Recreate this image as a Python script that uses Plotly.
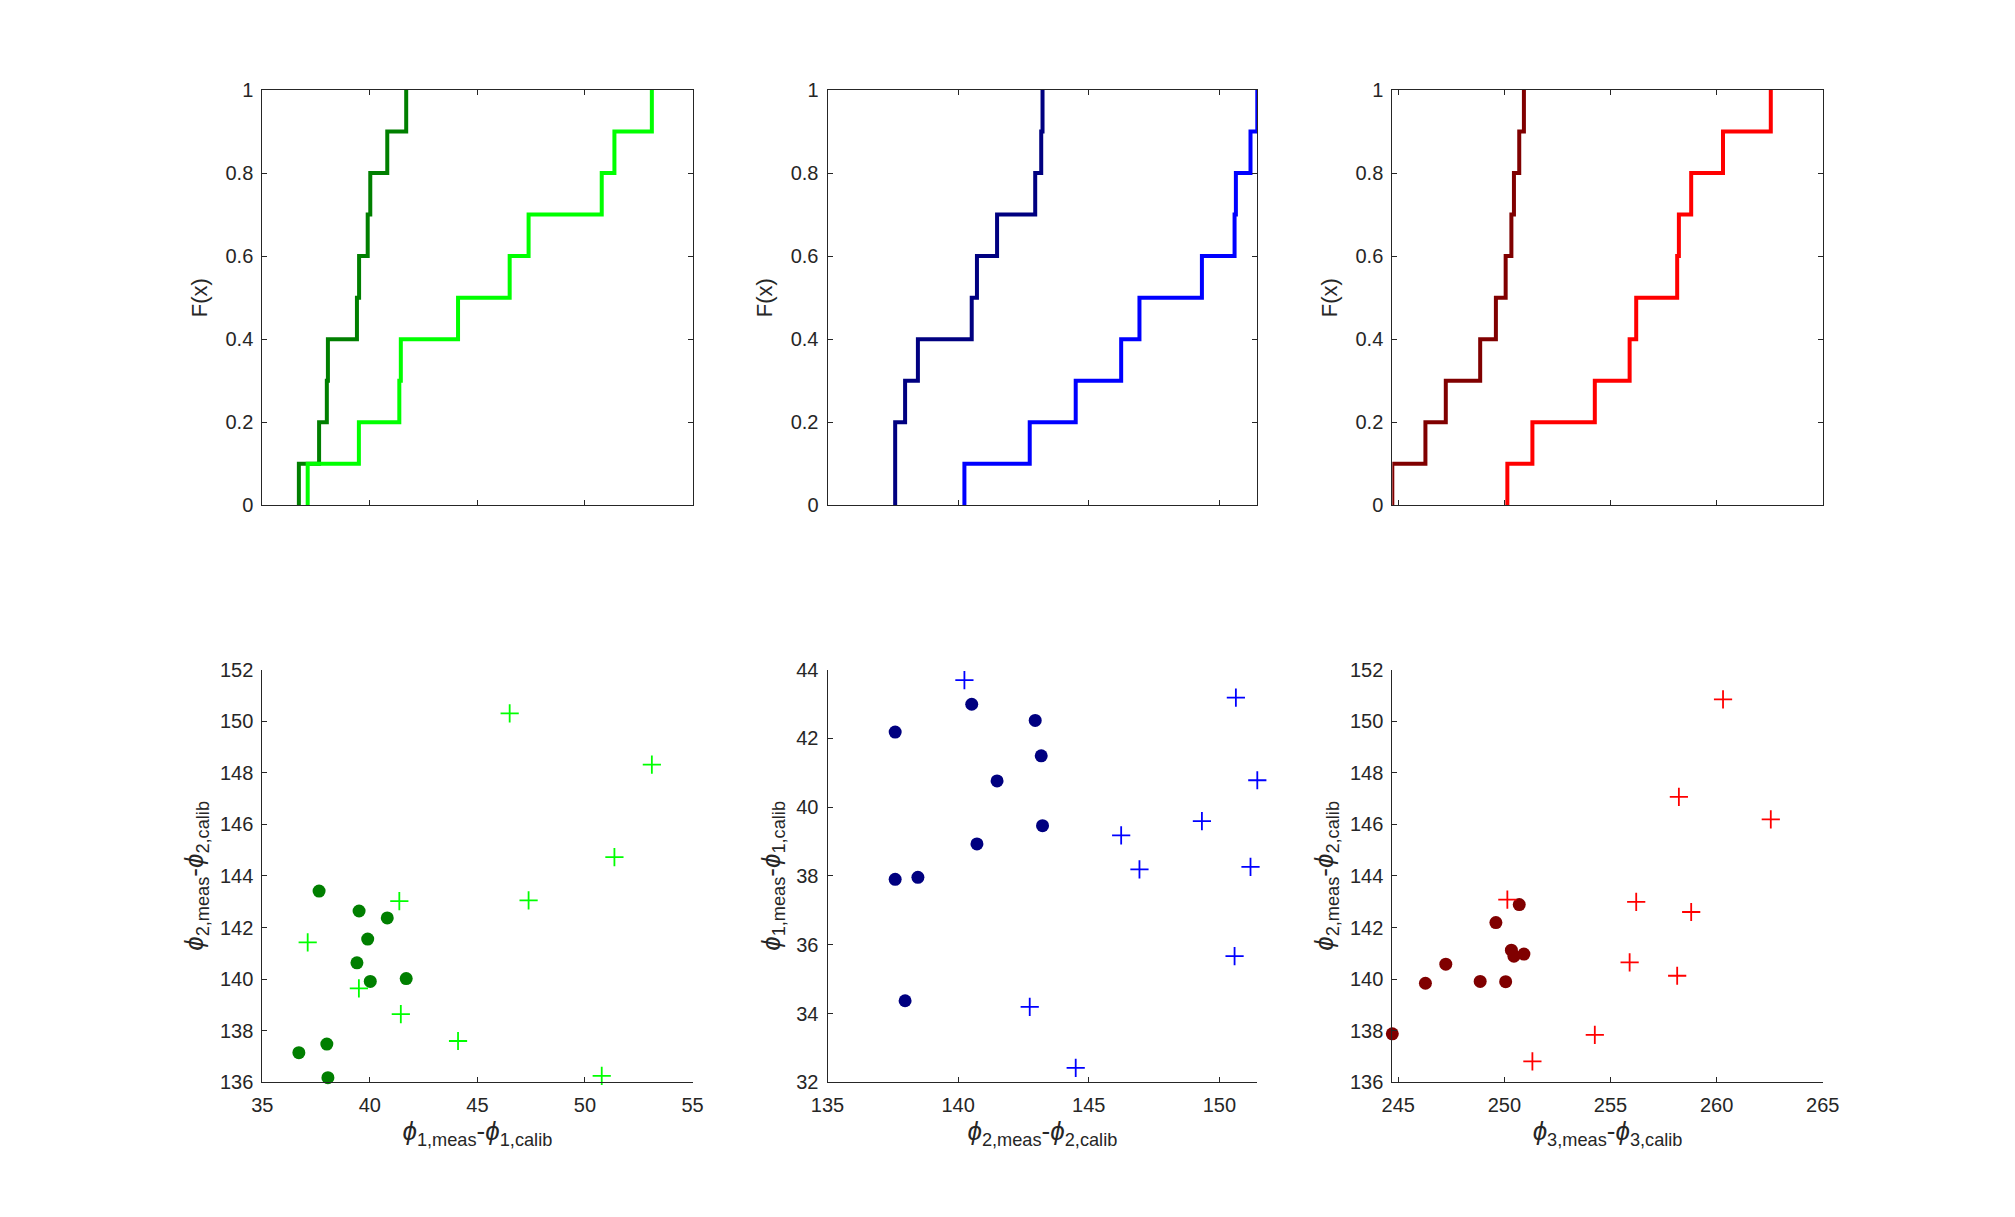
import numpy as np
import plotly.graph_objects as go

# ---- data ----
# panel 1: phi1 (x) vs phi2 (y)
phi1_a = [36.70, 37.64, 38.00, 38.05, 39.40, 39.50, 39.90, 40.02, 40.81, 41.69]
phi2_a = [137.15, 143.41, 137.48, 136.18, 140.63, 142.64, 141.55, 139.91, 142.37, 140.02]
phi1_b = [37.11, 39.49, 41.37, 41.44, 44.10, 46.50, 47.38, 50.78, 51.37, 53.11]
phi2_b = [141.42, 139.64, 143.02, 138.64, 137.60, 150.30, 143.05, 136.25, 144.73, 148.31]

# panel 2: phi2 (x) vs phi1 (y)
phi2_c = [137.59, 137.59, 137.97, 138.46, 140.52, 140.72, 141.49, 142.95, 143.18, 143.23]
phi1_c = [42.18, 37.90, 34.37, 37.96, 42.99, 38.93, 40.76, 42.52, 41.49, 39.46]
phi2_d = [140.24, 142.74, 144.50, 146.24, 146.94, 149.33, 150.58, 150.63, 151.19, 151.45]
phi1_d = [43.69, 34.19, 32.42, 39.18, 38.19, 39.59, 35.67, 43.18, 38.26, 40.78]

# panel 3: phi3 (x) vs phi2 (y)
phi3_e = [244.72, 246.28, 247.24, 248.86, 249.60, 250.06, 250.33, 250.45, 250.70, 250.92]
phi2_e = [137.88, 139.84, 140.58, 139.91, 142.19, 139.90, 141.12, 140.89, 142.89, 140.97]
phi3_f = [250.14, 251.32, 254.26, 255.90, 256.21, 258.14, 258.22, 258.80, 260.30, 262.55]
phi2_f = [143.08, 136.81, 137.84, 140.65, 142.99, 140.13, 147.06, 142.60, 150.84, 146.19]

x_ranges = [[35, 55], [135, 151.45], [244.72, 265]]
y_ranges_bottom = [[136, 152], [32, 44], [136, 152]]
x_ticks = [[35, 40, 45, 50, 55], [135, 140, 145, 150], [245, 250, 255, 260, 265]]
y_ticks_bottom = [list(range(136, 153, 2)), list(range(32, 45, 2)), list(range(136, 153, 2))]
f_ticks = [0, 0.2, 0.4, 0.6, 0.8, 1]
f_labels = ["0", "0.2", "0.4", "0.6", "0.8", "1"]

PHI = '<i>ϕ</i>'
x_titles = [f"{PHI}<sub>1,meas</sub>-{PHI}<sub>1,calib</sub>",
            f"{PHI}<sub>2,meas</sub>-{PHI}<sub>2,calib</sub>",
            f"{PHI}<sub>3,meas</sub>-{PHI}<sub>3,calib</sub>"]
y_titles = [f"{PHI}<sub>2,meas</sub>-{PHI}<sub>2,calib</sub>",
            f"{PHI}<sub>1,meas</sub>-{PHI}<sub>1,calib</sub>",
            f"{PHI}<sub>2,meas</sub>-{PHI}<sub>2,calib</sub>"]

dark_cols = ["#007F00", "#000080", "#800000"]
light_cols = ["#00FF00", "#0000FF", "#FF0000"]

groups = [
    (phi1_a, phi2_a, phi1_b, phi2_b),
    (phi2_c, phi1_c, phi2_d, phi1_d),
    (phi3_e, phi2_e, phi3_f, phi2_f),
]

col_domains = [[262.3 / 2015, 692.5 / 2015], [827.5 / 2015, 1257.3 / 2015], [1392.3 / 2015, 1822.8 / 2015]]
top_dom = [1 - 505.3 / 1217, 1 - 90 / 1217]
bot_dom = [1 - 1082.3 / 1217, 1 - 669.5 / 1217]

FONT = "Liberation Sans"
AX = "#262626"


def ecdf(vals):
    s = np.sort(np.asarray(vals, dtype=float))
    n = len(s)
    xs = np.concatenate([[s[0]], s])
    ys = np.arange(0, n + 1) / n
    return xs, ys


fig = go.Figure()
layout = {}
for i in range(3):
    xd, yd, xl, yl = groups[i]
    tx = f"x{2*i+1}" if i > 0 else "x"
    ty = f"y{2*i+1}" if i > 0 else "y"
    bx = f"x{2*i+2}"
    by = f"y{2*i+2}"

    # ECDF (top)
    for vals, col in ((xd, dark_cols[i]), (xl, light_cols[i])):
        ex, ey = ecdf(vals)
        fig.add_trace(go.Scatter(x=ex, y=ey, mode="lines", line=dict(color=col, width=4, shape="hv"),
                                 xaxis=tx, yaxis=ty, cliponaxis=False, showlegend=False, hoverinfo="skip"))
    # scatter (bottom)
    fig.add_trace(go.Scatter(x=xd, y=yd, mode="markers",
                             marker=dict(symbol="circle", size=13, color=dark_cols[i]),
                             xaxis=bx, yaxis=by, cliponaxis=False, showlegend=False))
    fig.add_trace(go.Scatter(x=xl, y=yl, mode="markers",
                             marker=dict(symbol="cross-thin", size=13, color=light_cols[i],
                                         line=dict(color=light_cols[i], width=1.8)),
                             xaxis=bx, yaxis=by, cliponaxis=False, showlegend=False))

    common = dict(showgrid=False, zeroline=False, showline=True, linecolor=AX, linewidth=1,
                  ticks="inside", ticklen=5, tickcolor=AX, tickwidth=1, automargin=False,
                  tickfont=dict(family=FONT, size=20, color=AX))
    kx = "xaxis" if i == 0 else f"xaxis{2*i+1}"
    ky = "yaxis" if i == 0 else f"yaxis{2*i+1}"
    layout[kx] = dict(common, domain=col_domains[i], anchor=ty, range=x_ranges[i],
                      tickvals=x_ticks[i], showticklabels=False, mirror="ticks")
    layout[ky] = dict(common, domain=top_dom, anchor=tx, range=[0, 1], tickvals=f_ticks,
                      ticktext=f_labels, mirror="ticks", ticklabelstandoff=4,
                      title=dict(text="F(x)", font=dict(family=FONT, size=22, color=AX), standoff=11))
    layout[f"xaxis{2*i+2}"] = dict(common, domain=col_domains[i], anchor=by, range=x_ranges[i],
                                   tickvals=x_ticks[i], ticklabelstandoff=5,
                                   title=dict(text=x_titles[i], font=dict(family=FONT, size=26, color=AX), standoff=6))
    layout[f"yaxis{2*i+2}"] = dict(common, domain=bot_dom, anchor=bx, range=y_ranges_bottom[i],
                                   tickvals=y_ticks_bottom[i], ticklabelstandoff=4,
                                   title=dict(text=y_titles[i], font=dict(family=FONT, size=26, color=AX), standoff=8))

fig.update_layout(width=2015, height=1217, margin=dict(l=0, r=0, t=0, b=0),
                  paper_bgcolor="white", plot_bgcolor="white", **layout)
fig.write_html("out.html")
